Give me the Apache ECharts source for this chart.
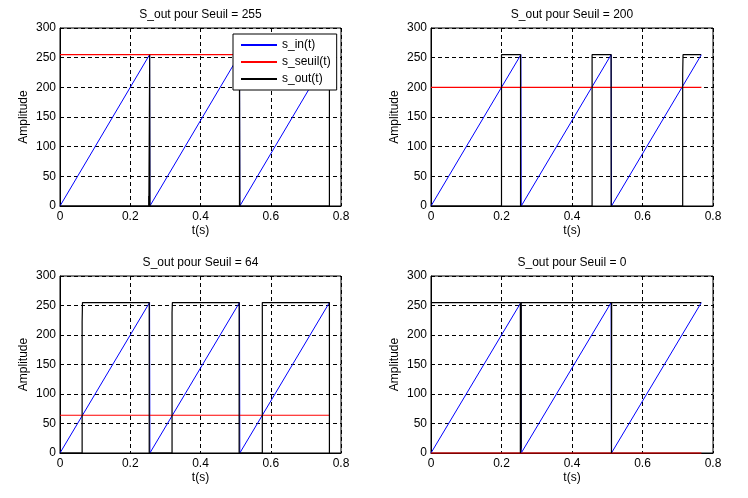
<!DOCTYPE html>
<html>
<head>
<meta charset="utf-8">
<script src="https://cdn.jsdelivr.net/npm/echarts@6/dist/echarts.min.js"></script>
<style>
  html, body { margin: 0; padding: 0; background: #fff; }
  #chart { width: 748px; height: 498px; }
</style>
</head>
<body>
<div id="chart"></div>
<script>
// sawtooth input, same for the four plots
const tIn = [0, 0.255, 0.256, 0.511, 0.512, 0.767];
const sIn = [0, 255, 0, 255, 0, 255];

// thresholds and plot titles
const seuils = [255, 200, 64, 0];
const titles = ["S_out pour Seuil = 255", "S_out pour Seuil = 200", "S_out pour Seuil = 64", "S_out pour Seuil = 0"];
const seuilSpan = [0, 0.767];

// output signal: [t, value]
const sOut255 = [[0, 0], [0.2525, 0], [0.2525, 17], [0.253, 0], [0.2553, 0], [0.2553, 255], [0.256, 0],
    [0.511, 0], [0.511, 255], [0.512, 0], [0.767, 0], [0.767, 255]];
const sOut200 = [[0, 0], [0.2, 0], [0.2, 255], [0.254, 255], [0.254, 0], [0.457, 0], [0.457, 255],
    [0.511, 255], [0.511, 0], [0.714, 0], [0.714, 222], [0.715, 255], [0.766, 255]];
const sOut64 = [[0, 0], [0.063, 0], [0.063, 222], [0.064, 255], [0.254, 255], [0.254, 0], [0.319, 0],
    [0.319, 238], [0.320, 255], [0.510, 255], [0.510, 0], [0.576, 0], [0.576, 255], [0.767, 255], [0.767, 0]];
const sOut0 = [[0, 255], [0.2535, 255], [0.2535, 0], [0.256, 10], [0.256, 255], [0.512, 255],
    [0.512, 0], [0.5125, 255], [0.766, 255]];
const sOuts = [sOut255, sOut200, sOut64, sOut0];

// axis ticks
const xTicks = { min: 0, max: 0.8, interval: 0.2 };
const yTicks = { min: 0, max: 300, interval: 50 };

const FONT = "'Liberation Sans', Arial, sans-serif";
const grids = [
    { left: 60, top: 28, width: 281, height: 178 },
    { left: 431, top: 28, width: 282, height: 178 },
    { left: 60, top: 276, width: 281, height: 177 },
    { left: 431, top: 276, width: 282, height: 177 }
];

let chart = echarts.init(document.getElementById("chart"), null, { renderer: "canvas" });

const gridLine = { show: true, lineStyle: { color: "#000", type: [4, 3], width: 1 } };
const axisLine = { show: true, onZero: false, lineStyle: { color: "#000", width: 1 } };

let xAxes = [], yAxes = [], series = [], titleList = [];

grids.forEach((g, i) => {
    titleList.push({
        text: titles[i],
        left: g.left + g.width / 2,
        top: g.top - 19,
        textAlign: "center",
        padding: 0,
        textStyle: { fontFamily: FONT, fontSize: 12, fontWeight: "normal", color: "#000" }
    });

    xAxes.push({
        type: "value", gridIndex: i,
        min: xTicks.min, max: xTicks.max, interval: xTicks.interval,
        name: "t(s)", nameLocation: "middle", nameGap: 19,
        nameTextStyle: { fontFamily: FONT, fontSize: 12, color: "#000" },
        axisLine: axisLine, axisTick: { show: false },
        axisLabel: { margin: 5, fontFamily: FONT, fontSize: 12, color: "#000",
            formatter: v => String(+v.toFixed(1)) },
        splitLine: gridLine
    });

    yAxes.push({
        type: "value", gridIndex: i,
        min: yTicks.min, max: yTicks.max, interval: yTicks.interval,
        name: "Amplitude", nameLocation: "middle", nameGap: 30,
        nameTextStyle: { fontFamily: FONT, fontSize: 12, color: "#000" },
        axisLine: axisLine, axisTick: { show: false },
        axisLabel: { margin: 4, fontFamily: FONT, fontSize: 12, color: "#000" },
        splitLine: gridLine
    });

    const common = { type: "line", xAxisIndex: i, yAxisIndex: i, showSymbol: false, symbol: "none",
        clip: false, animation: false, silent: true };

    series.push(Object.assign({}, common, {
        name: "s_in(t)",
        data: tIn.map((t, k) => [t, sIn[k]]),
        lineStyle: { color: "#0000ff", width: 1 }, itemStyle: { color: "#0000ff" }
    }));
    series.push(Object.assign({}, common, {
        name: "s_seuil(t)",
        data: seuilSpan.map(t => [t, seuils[i]]),
        lineStyle: { color: "#ff0000", width: 1.2 }, itemStyle: { color: "#ff0000" }
    }));
    series.push(Object.assign({}, common, {
        name: "s_out(t)",
        data: sOuts[i],
        lineStyle: { color: "#000", width: 1.2 }, itemStyle: { color: "#000" }
    }));
});

let option = {
    backgroundColor: "#fff",
    animation: false,
    title: titleList,
    grid: grids.map(g => Object.assign({ show: true, borderColor: "#000", borderWidth: 1,
        backgroundColor: "#fff" }, g)),
    xAxis: xAxes,
    yAxis: yAxes,
    legend: {
        data: ["s_in(t)", "s_seuil(t)", "s_out(t)"],
        orient: "vertical",
        left: 233, top: 34,
        padding: [4, 6, 4, 8],
        itemGap: 3,
        itemWidth: 36, itemHeight: 2,
        icon: "rect",
        backgroundColor: "#fff", borderColor: "#000", borderWidth: 1,
        textStyle: { fontFamily: FONT, fontSize: 12, color: "#000", lineHeight: 14 }
    },
    series: series
};

chart.setOption(option);
</script>
</body>
</html>
